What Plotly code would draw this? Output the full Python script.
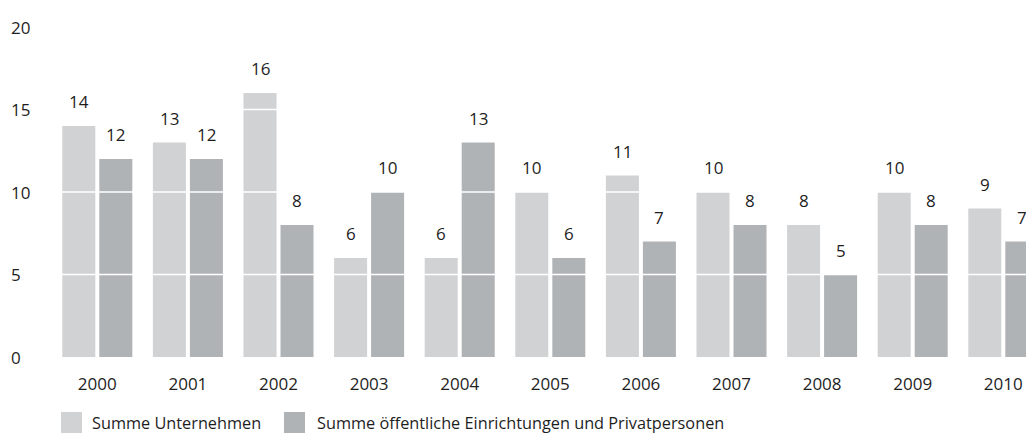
import plotly.graph_objects as go

years = ["2000", "2001", "2002", "2003", "2004", "2005", "2006", "2007", "2008", "2009", "2010"]
unternehmen = [14, 13, 16, 6, 6, 10, 11, 10, 8, 10, 9]
oeffentlich = [12, 12, 8, 10, 13, 6, 7, 8, 5, 8, 7]
series_names = ["Summe Unternehmen", "Summe öffentliche Einrichtungen und Privatpersonen"]
y_ticks = [0, 5, 10, 15, 20]

LIGHT = "#d1d2d4"
DARK = "#b0b3b6"
TEXT = "#1e1e1e"
FONT = "Open Sans"
FS = 17
FS_LEG = 16.3

W, H = 1026, 436
ML = 52
MT = 27
PLOT_BOTTOM = 357
MB = H - PLOT_BOTTOM
MR = 0
PW = W - ML - MR
PH = H - MT - MB
GROUP_PX = 90.6


def px_x(px):
    return (px - ML) / PW


def px_y(py):
    return (PLOT_BOTTOM - py) / PH


fig = go.Figure()
fig.add_trace(go.Bar(x=years, y=unternehmen, name=series_names[0],
                     marker=dict(color=LIGHT, line=dict(width=0))))
fig.add_trace(go.Bar(x=years, y=oeffentlich, name=series_names[1],
                     marker=dict(color=DARK, line=dict(width=0))))

annotations = []
shapes = []

# value labels above bars
for vals, shift in ((unternehmen, -18.5), (oeffentlich, 18.5)):
    for i, v in enumerate(vals):
        annotations.append(dict(x=i, y=v, xref="x", yref="y", text=str(v),
                                showarrow=False, xshift=shift, yshift=11,
                                yanchor="bottom", xanchor="center",
                                font=dict(family=FONT, size=FS, color=TEXT)))

# y tick labels (left aligned)
for t in y_ticks:
    annotations.append(dict(x=px_x(9), y=t, xref="paper", yref="y", text=str(t),
                            showarrow=False, xanchor="left", yanchor="middle",
                            font=dict(family=FONT, size=FS, color=TEXT)))

# white gridlines drawn over the bars
for t in y_ticks[1:-1]:
    shapes.append(dict(type="line", xref="paper", yref="y", x0=0, x1=1, y0=t, y1=t,
                       line=dict(color="white", width=1.5), layer="above"))

# legend
leg = [(61, 92, LIGHT, series_names[0]), (284, 317, DARK, series_names[1])]
for sx, tx, col, name in leg:
    shapes.append(dict(type="rect", xref="paper", yref="paper",
                       x0=px_x(sx), x1=px_x(sx + 21), y0=px_y(433), y1=px_y(412),
                       fillcolor=col, line=dict(width=0), layer="above"))
    annotations.append(dict(x=px_x(tx - 2), y=px_y(423), xref="paper", yref="paper",
                            text=name, showarrow=False, xanchor="left", yanchor="middle",
                            font=dict(family=FONT, size=FS_LEG, color=TEXT)))

fig.update_layout(
    width=W, height=H,
    margin=dict(l=ML, r=MR, t=MT, b=MB, pad=0),
    paper_bgcolor="white", plot_bgcolor="white",
    barmode="group", bargap=0.183, bargroupgap=0.108,
    showlegend=False,
    font=dict(family=FONT, size=FS, color=TEXT),
    annotations=annotations, shapes=shapes,
    xaxis=dict(type="category", range=[-0.5, -0.5 + PW / GROUP_PX], showgrid=False,
               zeroline=False, showline=False, ticks="outside", ticklen=12,
               tickcolor="rgba(0,0,0,0)", automargin=False,
               tickfont=dict(family=FONT, size=FS, color=TEXT)),
    yaxis=dict(range=[0, 20], tickvals=y_ticks, showticklabels=False, showgrid=False,
               zeroline=False, showline=False, automargin=False, fixedrange=True),
)

fig.write_html("out.html",
               config={"displayModeBar": False},
               post_script="document.body.style.margin='0';document.body.style.overflow='hidden';")
